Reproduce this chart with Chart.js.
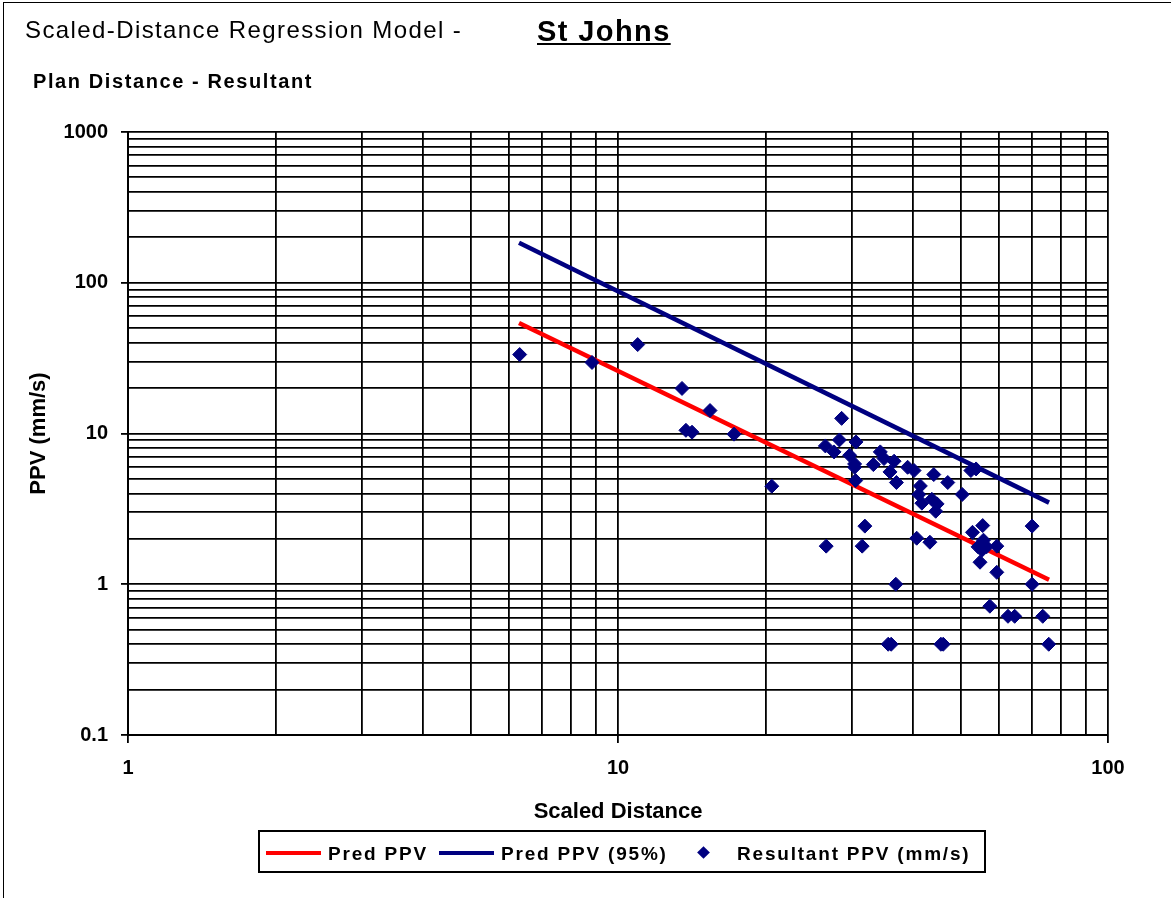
<!DOCTYPE html>
<html>
<head>
<meta charset="utf-8">
<title>Scaled-Distance Regression Model - St Johns</title>
<script src="https://cdn.jsdelivr.net/npm/chart.js@4.4.1/dist/chart.umd.min.js"></script>
<style>
  body { margin: 0; background: #fff; font-family: 'Liberation Sans', Arial, sans-serif; }
  #wrap { position: relative; width: 1171px; height: 898px; overflow: hidden; }
  #frame { position: absolute; left: 3px; top: 2px; width: 1300px; height: 1000px; border-left: 1.5px solid #000; border-top: 1.5px solid #000; }
  canvas { position: absolute; left: 0; top: 0; }
  .t { position: absolute; white-space: nowrap; color: #000; line-height: 1; }
  #title1 { left: 25px; top: 18px; font-size: 24px; letter-spacing: 1.4px; }
  #title2 { left: 537px; top: 17px; font-size: 29px; font-weight: bold; text-decoration: underline; letter-spacing: 1.4px; }
  #subtitle { left: 33px; top: 71px; font-size: 20px; font-weight: bold; letter-spacing: 1.6px; }
  #legend { position: absolute; left: 258px; top: 830px; width: 724px; height: 39px; border: 2px solid #000; background: #fff; }
  #legend .line { position: absolute; top: 19px; width: 55px; height: 4px; }
  #legend .lbl { position: absolute; top: 11px; font-size: 19px; font-weight: bold; letter-spacing: 1.8px; }
  #legend .dia { position: absolute; left: 439px; top: 16px; width: 9px; height: 9px; background: #000080; transform: rotate(45deg); }
</style>
</head>
<body>
<div id="wrap">
  <canvas id="chart" width="1171" height="898"></canvas>
  <div id="frame"></div>
  <div class="t" id="title1">Scaled-Distance Regression Model -</div>
  <div class="t" id="title2">St Johns</div>
  <div class="t" id="subtitle">Plan Distance - Resultant</div>
  <div id="legend">
    <div class="line" style="left:6px;background:#ff0000"></div>
    <div class="lbl" style="left:68px">Pred PPV</div>
    <div class="line" style="left:179px;background:#000080"></div>
    <div class="lbl" style="left:241px">Pred PPV (95%)</div>
    <div class="dia"></div>
    <div class="lbl" style="left:477px">Resultant PPV (mm/s)</div>
  </div>
</div>
<script>
// measured blasts
const scaledDistance = [6.30, 8.85, 10.97, 13.51, 13.76, 14.16, 15.41, 17.25, 20.6,
  28.6, 26.5, 27.6, 28.3, 30.6, 29.7, 30.4, 30.4, 30.55, 34.3, 34.9, 33.2, 36.6, 35.9, 37.0,
  39.0, 40.2, 44.1, 47.1, 41.4, 41.1, 41.7, 43.7, 44.8, 44.5, 50.4, 52.5, 53.8, 31.9, 26.6,
  31.5, 40.7, 43.3, 52.9, 55.5, 55.7, 54.3, 56.5, 59.3, 55.3, 54.8, 59.3, 36.9, 70.0, 70.0,
  57.4, 62.5, 64.5, 73.6, 35.6, 36.1, 45.6, 46.1, 75.7]
const resultantPPV = [33.4, 29.6, 38.9, 19.9, 10.5, 10.2, 14.2, 9.9, 4.47,
  12.6, 8.27, 7.55, 9.06, 8.79, 7.17, 6.28, 5.97, 4.87, 7.55, 6.82, 6.22, 6.55, 5.56, 4.73,
  5.97, 5.68, 5.34, 4.73, 4.49, 3.94, 3.45, 3.66, 3.41, 3.05, 3.94, 5.68, 5.82, 2.43, 1.79,
  1.79, 2.02, 1.90, 2.21, 2.45, 1.96, 1.77, 1.77, 1.79, 1.68, 1.40, 1.20, 1.00, 2.43, 1.00,
  0.715, 0.613, 0.613, 0.613, 0.40, 0.40, 0.40, 0.40, 0.40]

// regression lines (end points)
const predX = [6.28, 75.8]
const predPPV = [54.0, 1.07]
const pred95X = [6.28, 75.8]
const pred95PPV = [184, 3.48]

// axes
const xGrid = [1, 2, 3, 4, 5, 6, 7, 8, 9, 10, 20, 30, 40, 50, 60, 70, 80, 90, 100]
const yGrid = [0.1, 0.2, 0.3, 0.4, 0.5, 0.6, 0.7, 0.8, 0.9, 1, 2, 3, 4, 5, 6, 7, 8, 9,
  10, 20, 30, 40, 50, 60, 70, 80, 90, 100, 200, 300, 400, 500, 600, 700, 800, 900, 1000]
const xTickLabels = [1, 10, 100]
const yTickLabels = [0.1, 1, 10, 100, 1000]

const pts = (xs, ys) => xs.map((x, i) => ({ x, y: ys[i] }))
const tickFont = { family: "'Liberation Sans', Arial, sans-serif", size: 20, weight: 'bold' }
const titleFont = { family: "'Liberation Sans', Arial, sans-serif", size: 22, weight: 'bold' }
const majorTick = labels => ctx => labels.includes(ctx.tick && ctx.tick.value) ? '#000' : 'rgba(0,0,0,0)'

new Chart(document.getElementById('chart'), {
  type: 'scatter',
  data: {
    datasets: [
      { label: 'Resultant PPV (mm/s)', data: pts(scaledDistance, resultantPPV), pointStyle: 'rectRot',
        pointRadius: 7, backgroundColor: '#000080', borderColor: '#000080', borderWidth: 1, order: 0 },
      { label: 'Pred PPV (95%)', data: pts(pred95X, pred95PPV), showLine: true, borderColor: '#000080',
        borderWidth: 4.5, pointRadius: 0, order: 1 },
      { label: 'Pred PPV', data: pts(predX, predPPV), showLine: true, borderColor: '#ff0000',
        borderWidth: 4.5, pointRadius: 0, order: 2 }
    ]
  },
  options: {
    responsive: false,
    animation: false,
    layout: { padding: { left: 0, right: 63, top: 132, bottom: 73 } },
    plugins: { legend: { display: false }, tooltip: { enabled: false } },
    scales: {
      x: {
        type: 'logarithmic', min: 1, max: 100,
        afterBuildTicks: s => { s.ticks = xGrid.map(v => ({ value: v })) },
        afterFit: s => { s.height = 90 },
        grid: { color: '#000', lineWidth: 1.8, tickLength: 8, tickWidth: 1.8, tickColor: majorTick(xTickLabels) },
        border: { color: '#000', width: 2 },
        ticks: { autoSkip: false, maxRotation: 0, padding: 13, color: '#000', font: tickFont,
          callback: v => xTickLabels.includes(v) ? String(v) : '' },
        title: { display: true, text: 'Scaled Distance', color: '#000', font: titleFont, padding: { top: 0, bottom: 0 } }
      },
      y: {
        type: 'logarithmic', min: 0.1, max: 1000,
        afterBuildTicks: s => { s.ticks = yGrid.map(v => ({ value: v })) },
        afterFit: s => { s.width = 128 },
        grid: { color: '#000', lineWidth: 1.8, tickLength: 7, tickWidth: 1.8, tickColor: majorTick(yTickLabels) },
        border: { color: '#000', width: 2 },
        ticks: { autoSkip: false, padding: 13, color: '#000', font: tickFont,
          callback: v => yTickLabels.includes(v) ? String(v) : '' },
        title: { display: true, text: 'PPV (mm/s)', color: '#000', font: titleFont, padding: { top: 26, bottom: 0 } }
      }
    }
  }
})
</script>
</body>
</html>
